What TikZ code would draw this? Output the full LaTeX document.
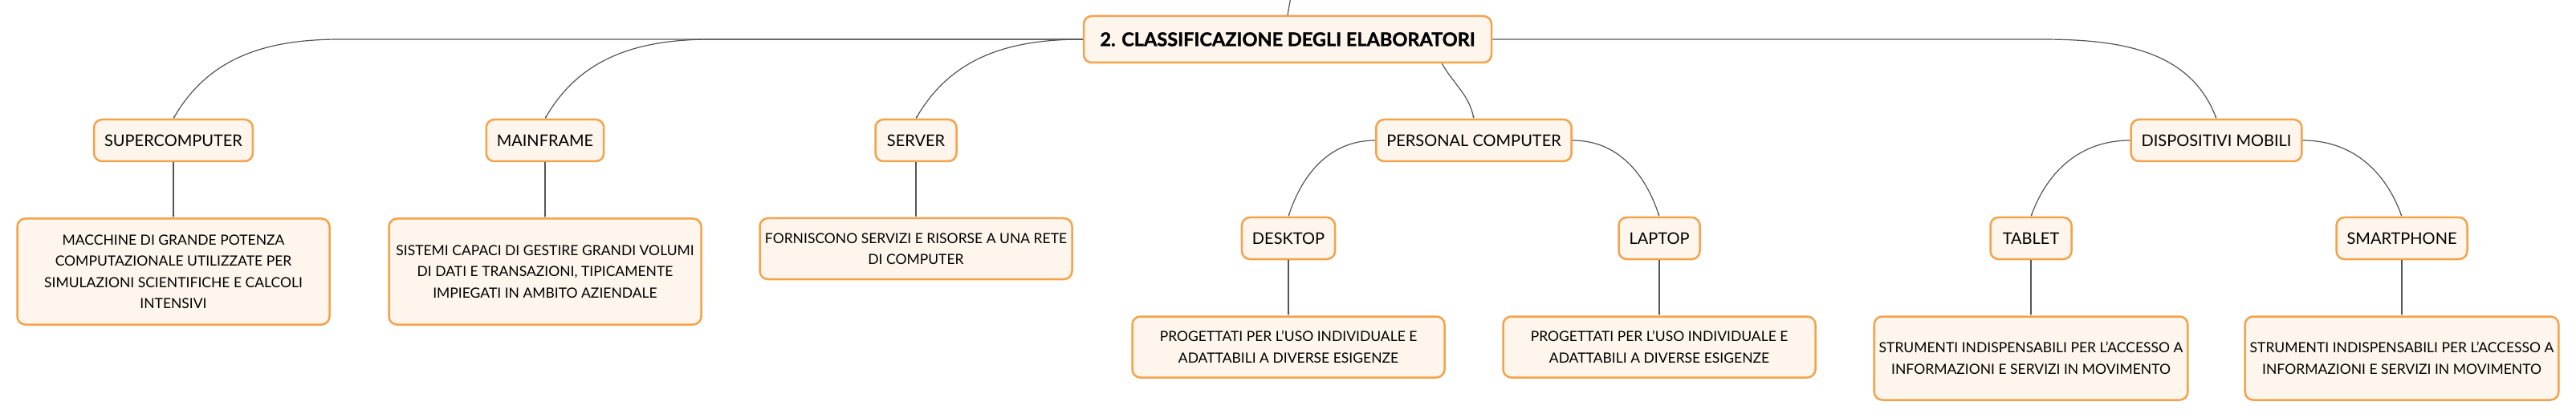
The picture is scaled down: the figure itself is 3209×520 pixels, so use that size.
\documentclass[tikz,border=0pt]{standalone}
\usepackage{fontspec}
\setmainfont{Lato}[BoldFeatures={FakeBold=1.2}]
\usetikzlibrary{arrows.meta}
\definecolor{boxline}{HTML}{F5A24A}
\definecolor{boxfill}{HTML}{FEF6EC}
\definecolor{linkgray}{HTML}{555555}

\begin{document}
\begin{tikzpicture}[x=1pt,y=1pt,
  topic/.style={draw=boxline, fill=boxfill, line width=2.5pt, rounded corners=10pt,
    minimum width=101pt, minimum height=52pt, inner xsep=13pt,
    font=\fontsize{20}{27}\selectfont},
  note/.style={topic, minimum width=389pt, inner xsep=6pt, align=center,
    font=\fontsize{17.5}{26.5}\selectfont},
  wire/.style={draw=linkgray, line width=1.2pt},
  link/.style={wire, -{Stealth[length=3pt,width=2.5pt]}}]
\useasboundingbox (0,0) rectangle (3209,520);
% main topic
\node[topic, minimum width=508pt, minimum height=58pt,
  font=\bfseries\fontsize{23.5}{28}\selectfont] (root) at (1604,471) {2. CLASSIFICAZIONE DEGLI ELABORATORI};
% first level
\node[topic] (super) at (216,345) {SUPERCOMPUTER};
\node[topic] (main) at (679,345) {MAINFRAME};
\node[topic] (server) at (1141,345) {SERVER};
\node[topic] (pc) at (1836,345) {PERSONAL COMPUTER};
\node[topic] (mobile) at (2761,345) {DISPOSITIVI MOBILI};
% second level
\node[topic] (desktop) at (1605,223) {DESKTOP};
\node[topic] (laptop) at (2067,223) {LAPTOP};
\node[topic] (tablet) at (2530,223) {TABLET};
\node[topic] (smart) at (2992,223) {SMARTPHONE};
% notes
\node[note, minimum height=132pt] (superdesc) at (216,181.5)
  {MACCHINE DI GRANDE POTENZA\\COMPUTAZIONALE UTILIZZATE PER\\SIMULAZIONI SCIENTIFICHE E CALCOLI\\INTENSIVI};
\node[note, minimum height=132pt] (maindesc) at (679,181.5)
  {SISTEMI CAPACI DI GESTIRE GRANDI VOLUMI\\DI DATI E TRANSAZIONI, TIPICAMENTE\\IMPIEGATI IN AMBITO AZIENDALE};
\node[note, minimum height=76pt] (serverdesc) at (1141,210)
  {FORNISCONO SERVIZI E RISORSE A UNA RETE\\DI COMPUTER};
\node[note, minimum height=76pt] (desktopdesc) at (1605,87.5)
  {PROGETTATI PER L'USO INDIVIDUALE E\\ADATTABILI A DIVERSE ESIGENZE};
\node[note, minimum height=76pt] (laptopdesc) at (2067,87.5)
  {PROGETTATI PER L'USO INDIVIDUALE E\\ADATTABILI A DIVERSE ESIGENZE};
\node[note, minimum height=104pt] (tabletdesc) at (2530,73.5)
  {STRUMENTI INDISPENSABILI PER L'ACCESSO A\\INFORMAZIONI E SERVIZI IN MOVIMENTO};
\node[note, minimum height=104pt] (smartdesc) at (2992,73.5)
  {STRUMENTI INDISPENSABILI PER L'ACCESSO A\\INFORMAZIONI E SERVIZI IN MOVIMENTO};
% bends
\coordinate (parent) at ([xshift=14pt,yshift=80pt]root.north);
\coordinate[xshift=208pt] (superbend) at (super.north |- root.west);
\coordinate[xshift=208pt] (mainbend) at (main.north |- root.west);
\coordinate[xshift=-219pt] (mobilebend) at (mobile.north |- root.east);
\coordinate (pcout) at ([xshift=-63pt]root.south east);
% connectors
\draw[wire] (root.north) -- (parent);
\draw[link] (root.west) -- (superbend) to[out=180,in=60] (super.north);
\draw[link] (root.west) -- (mainbend) to[out=180,in=60] (main.north);
\draw[link] (root.west) to[out=180,in=60] (server.north);
\draw[link] (pcout) to[out=-60,in=102] (pc.north);
\draw[link] (root.east) -- (mobilebend) to[out=0,in=111] (mobile.north);
\draw[link] (pc.west) to[out=180,in=72] (desktop.north);
\draw[link] (pc.east) to[out=0,in=108] (laptop.north);
\draw[link] (mobile.west) to[out=180,in=70] (tablet.north);
\draw[link] (mobile.east) to[out=0,in=110] (smart.north);
\foreach \a/\b in {super/superdesc, main/maindesc, server/serverdesc, desktop/desktopdesc,
  laptop/laptopdesc, tablet/tabletdesc, smart/smartdesc}
  \draw[link] (\a.south) -- (\b.north);
\end{tikzpicture}
\end{document}
